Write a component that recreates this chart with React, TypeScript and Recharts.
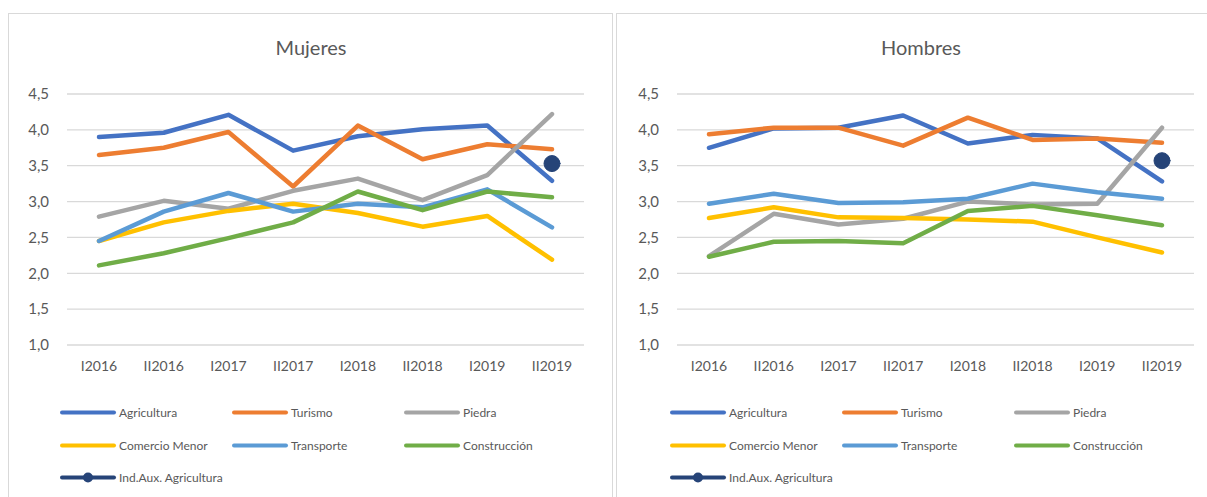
import { LineChart, Line, XAxis, YAxis, CartesianGrid } from "recharts";

const CATEGORIES = ["I2016", "II2016", "I2017", "II2017", "I2018", "II2018", "I2019", "II2019"];
const Y_TICKS = [1, 1.5, 2, 2.5, 3, 3.5, 4, 4.5];

// Mujeres
const mujAgricultura = [3.9, 3.96, 4.21, 3.71, 3.91, 4.01, 4.06, 3.29];
const mujTurismo = [3.65, 3.75, 3.97, 3.21, 4.06, 3.59, 3.8, 3.73];
const mujPiedra = [2.79, 3.01, 2.9, 3.15, 3.32, 3.02, 3.37, 4.22];
const mujComercio = [2.45, 2.71, 2.87, 2.97, 2.84, 2.65, 2.8, 2.19];
const mujTransporte = [2.45, 2.86, 3.12, 2.86, 2.97, 2.92, 3.17, 2.64];
const mujConstruccion = [2.11, 2.28, 2.49, 2.71, 3.14, 2.88, 3.14, 3.06];
const mujIndAux = [null, null, null, null, null, null, null, 3.53];

// Hombres
const homAgricultura = [3.75, 4.02, 4.03, 4.2, 3.81, 3.93, 3.88, 3.28];
const homTurismo = [3.94, 4.03, 4.03, 3.78, 4.17, 3.86, 3.88, 3.82];
const homPiedra = [2.24, 2.83, 2.68, 2.76, 3.0, 2.96, 2.97, 4.03];
const homComercio = [2.77, 2.92, 2.78, 2.77, 2.75, 2.72, 2.5, 2.29];
const homTransporte = [2.97, 3.11, 2.98, 2.99, 3.04, 3.25, 3.13, 3.04];
const homConstruccion = [2.23, 2.44, 2.45, 2.42, 2.87, 2.94, 2.81, 2.67];
const homIndAux = [null, null, null, null, null, null, null, 3.57];

const SERIES = [
  { key: "agricultura", name: "Agricultura", color: "#4472C4" },
  { key: "turismo", name: "Turismo", color: "#ED7D31" },
  { key: "piedra", name: "Piedra", color: "#A5A5A5" },
  { key: "comercio", name: "Comercio Menor", color: "#FFC000" },
  { key: "transporte", name: "Transporte", color: "#5B9BD5" },
  { key: "construccion", name: "Construcción", color: "#70AD47" },
  { key: "indaux", name: "Ind.Aux. Agricultura", color: "#264478", dot: true },
];

const FONT = "Lato, 'Open Sans', sans-serif";
const TEXT = "#595959";

const buildData = (cols: Record<string, (number | null)[]>) =>
  CATEGORIES.map((cat, i) => {
    const row: Record<string, any> = { cat };
    Object.keys(cols).forEach((k) => (row[k] = cols[k][i]));
    return row;
  });

const mujData = buildData({
  agricultura: mujAgricultura,
  turismo: mujTurismo,
  piedra: mujPiedra,
  comercio: mujComercio,
  transporte: mujTransporte,
  construccion: mujConstruccion,
  indaux: mujIndAux,
});

const homData = buildData({
  agricultura: homAgricultura,
  turismo: homTurismo,
  piedra: homPiedra,
  comercio: homComercio,
  transporte: homTransporte,
  construccion: homConstruccion,
  indaux: homIndAux,
});

const Panel = ({ title, data, offset }: { title: string; data: any[]; offset: number }) => (
  <div style={{ position: "absolute", left: offset, top: 0, width: 600, height: 497 }}>
    <div
      style={{
        position: "absolute",
        left: 0,
        width: 600,
        top: 35,
        textAlign: "center",
        fontSize: 20,
        color: TEXT,
        fontFamily: FONT,
        paddingLeft: 22,
        boxSizing: "border-box",
      }}
    >
      {title}
    </div>
    <div style={{ position: "absolute", left: 0, top: 0 }}>
      <LineChart width={600} height={380} data={data} margin={{ top: 94, right: 16, bottom: 5, left: 27 }}>
        <CartesianGrid vertical={false} stroke="#d9d9d9" strokeWidth={1.3} />
        <XAxis
          dataKey="cat"
          axisLine={false}
          tickLine={false}
          padding={{ left: 32, right: 32 }}
          tickMargin={10}
          height={30}
          tick={{ fill: TEXT, fontSize: 14, fontFamily: FONT }}
          interval={0}
        />
        <YAxis
          domain={[1, 4.5]}
          ticks={Y_TICKS}
          axisLine={false}
          tickLine={false}
          width={40}
          tickMargin={12}
          tick={{ fill: TEXT, fontSize: 15, fontFamily: FONT }}
          tickFormatter={(v: number) => v.toFixed(1).replace(".", ",")}
        />
        {SERIES.map((s) => (
          <Line
            key={s.key}
            dataKey={s.key}
            name={s.name}
            stroke={s.color}
            strokeWidth={4.5}
            strokeLinecap="round"
            strokeLinejoin="round"
            dot={s.dot ? { r: 8, fill: s.color, stroke: s.color, strokeWidth: 1 } : false}
            activeDot={false}
            isAnimationActive={false}
          />
        ))}
      </LineChart>
    </div>
    {SERIES.map((s, i) => {
      const col = i % 3;
      const row = Math.floor(i / 3);
      return (
        <div
          key={s.key}
          style={{
            position: "absolute",
            left: 60 + col * 172,
            top: 404 + row * 32.5,
            height: 17,
            display: "flex",
            alignItems: "center",
            fontFamily: FONT,
            fontSize: 12,
            color: TEXT,
            whiteSpace: "nowrap",
          }}
        >
          <svg width={58} height={17} style={{ marginRight: 1 }}>
            <line x1={2} y1={8.5} x2={54} y2={8.5} stroke={s.color} strokeWidth={4} strokeLinecap="round" />
            {s.dot && <circle cx={28} cy={8.5} r={5} fill={s.color} />}
          </svg>
          {s.name}
        </div>
      );
    })}
  </div>
);

export default function App() {
  return (
    <div
      style={{
        position: "fixed",
        left: 0,
        top: 0,
        width: 1207,
        height: 497,
        background: "#fff",
        overflow: "hidden",
      }}
    >
      <div
        style={{
          position: "absolute",
          left: 8,
          top: 13,
          width: 603,
          height: 500,
          border: "1.5px solid #d9d9d9",
        }}
      />
      <div
        style={{
          position: "absolute",
          left: 616,
          top: 13,
          width: 600,
          height: 500,
          border: "1.5px solid #d9d9d9",
        }}
      />
      <Panel title="Mujeres" data={mujData} offset={0} />
      <Panel title="Hombres" data={homData} offset={610} />
    </div>
  );
}
